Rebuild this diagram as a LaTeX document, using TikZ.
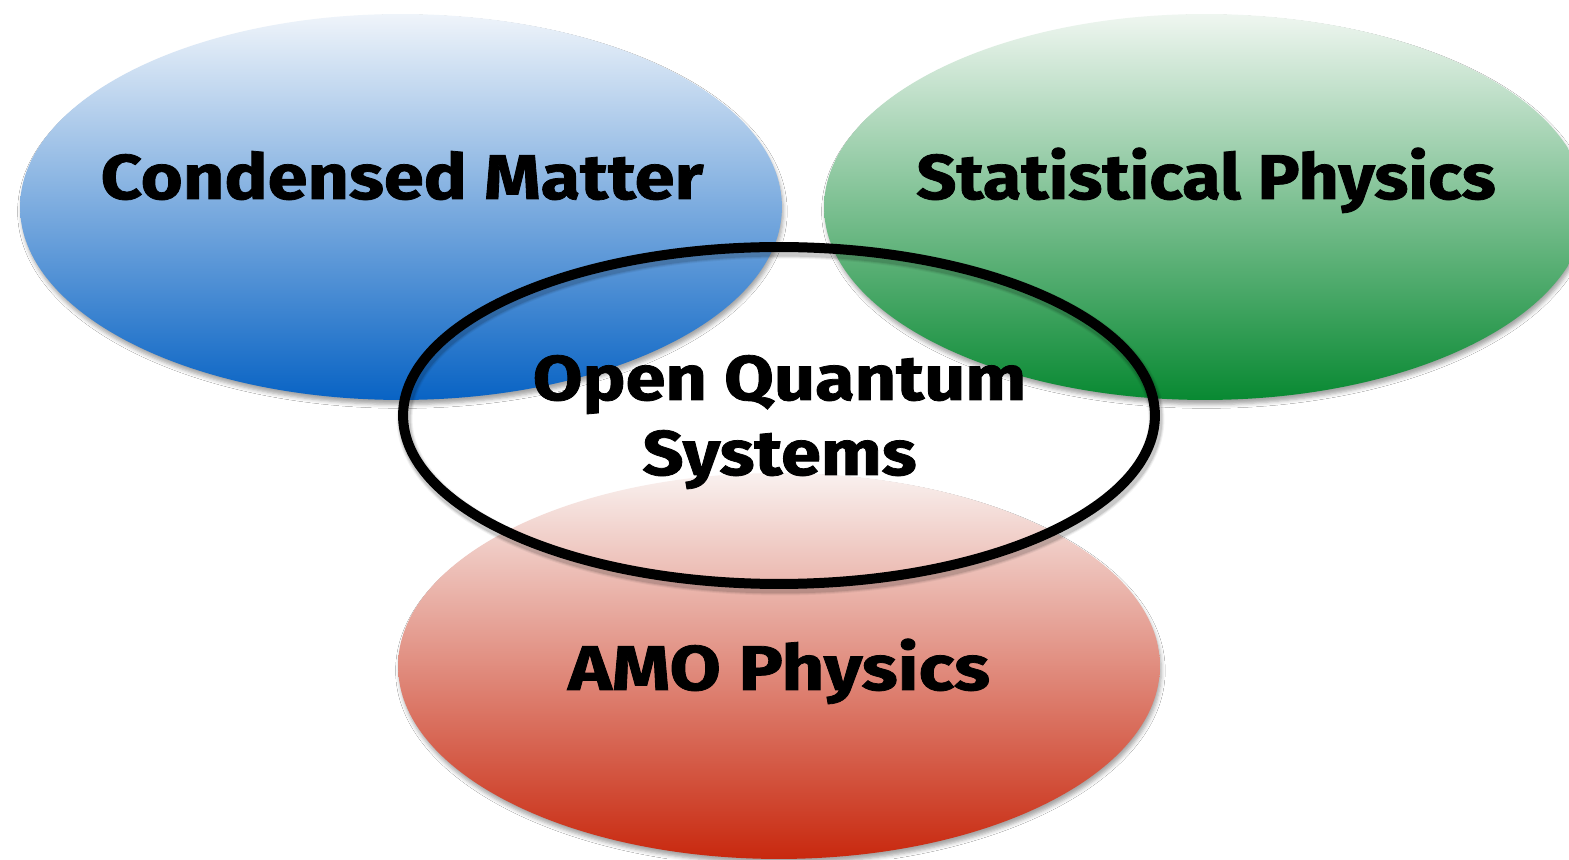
\documentclass[tikz,border=0pt]{standalone}
\usepackage{fontspec}
\setmainfont{Fira Sans}[BoldFeatures={FakeBold=1.2}]
\usetikzlibrary{shapes.geometric,shadows.blur}

\definecolor{cmtop}{RGB}{239,244,250}
\definecolor{cmbot}{RGB}{8,99,196}
\definecolor{sptop}{RGB}{239,246,240}
\definecolor{spbot}{RGB}{8,137,50}
\definecolor{amotop}{RGB}{249,241,239}
\definecolor{amobot}{RGB}{200,40,14}

\tikzset{
  field/.style={ellipse, inner sep=0pt, minimum width=15.24cm, minimum height=7.72cm,
    blur shadow={shadow xshift=0.8pt, shadow yshift=-2.6pt, shadow blur radius=2.2pt, shadow opacity=35}},
  ring/.style={ellipse, inner sep=0pt, minimum width=15.04cm, minimum height=6.74cm,
    draw=black, line width=0.2cm},
  label/.style={anchor=base, font=\fontsize{36}{40}\selectfont\bfseries, text=black,
    inner sep=0pt, xscale=1.14}
}

\begin{document}
\begin{tikzpicture}[x=0.02cm, y=0.02cm]
  \useasboundingbox (0,0) rectangle (1569,859);
  \fill[white] (0,0) rectangle (1569,859);

  % the three fields
  \node[field, top color=cmtop, bottom color=cmbot] (cm) at (401,652) {};
  \node[field, top color=sptop, bottom color=spbot] (sp) at (1205,652) {};
  \node[field, top color=amotop, bottom color=amobot] (amo) at (779,193) {};

  % soft shadow under the central ring
  \foreach \w/\o in {0.32/0.05, 0.28/0.07, 0.24/0.10} {
    \node[ellipse, inner sep=0pt, minimum width=15.04cm, minimum height=6.74cm,
      draw=black, draw opacity=\o, line width=\w cm] at (780.5,440) {};
  }
  % central ring
  \node[ring] (oqs) at (779,443.5) {};

  % labels
  \node[label] (cmtext) at (402,660) {Condensed Matter};
  \node[label, xscale=0.975] (sptext) at (1206,660) {Statistical Physics};
  \node[label] (oqs1) at (779.5,459) {Open Quantum};
  \node[label] (oqs2) at (779.5,384) {Systems};
  \node[label, xscale=1.03] (amotext) at (779,169) {AMO Physics};
\end{tikzpicture}
\end{document}
